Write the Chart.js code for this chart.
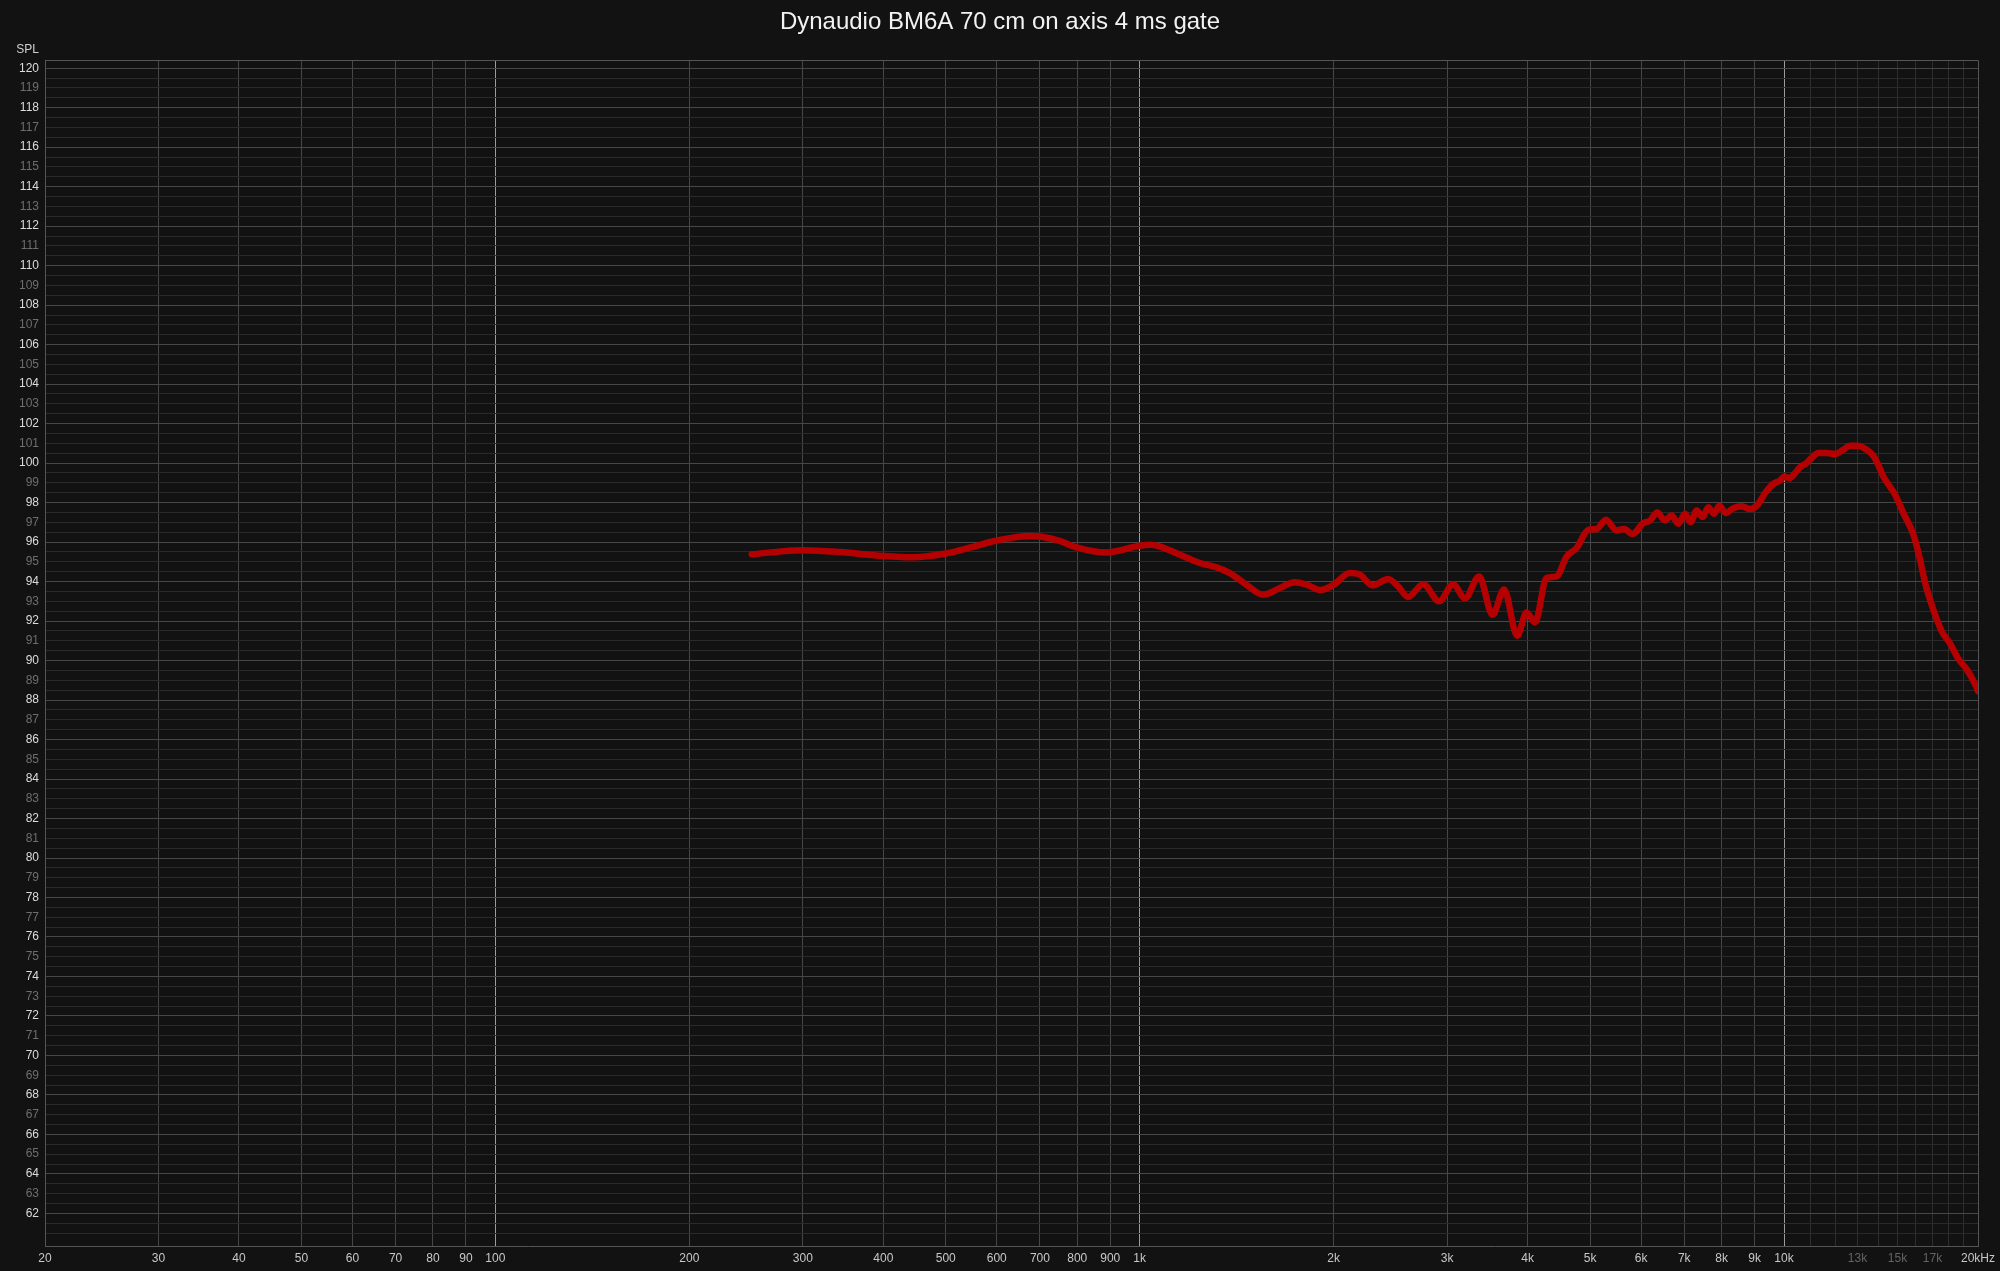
<!DOCTYPE html>
<html>
<head>
<meta charset="utf-8">
<title>Dynaudio BM6A 70 cm on axis 4 ms gate</title>
<script src="https://cdn.jsdelivr.net/npm/chart.js@4.4.1/dist/chart.umd.min.js"></script>
<style>
  html, body { margin: 0; padding: 0; background: #121212; }
  canvas { display: block; }
</style>
</head>
<body>
<canvas id="fr" width="2000" height="1271"></canvas>
<script>
// Frecuencias (Hz) y nivel SPL (dB)
const freqs = [
  250, 300, 342, 400, 445, 500, 551, 600, 675, 700, 751, 800, 887, 1000, 1040, 1073,
  1140, 1240, 1316, 1380, 1464, 1554, 1650, 1740, 1815, 1908, 2000, 2119, 2196, 2298,
  2429, 2518, 2610, 2754, 2916, 3065, 3197, 3364, 3528, 3677, 3853, 3985, 4106, 4280,
  4436, 4597, 4765, 4969, 5118, 5292, 5497, 5644, 5821, 6046, 6193, 6357, 6534, 6690,
  6853, 7022, 7160, 7318, 7476, 7630, 7786, 7936, 8126, 8345, 8597, 8857, 9122, 9343,
  9625, 9858, 10000, 10190, 10400, 10590, 10840, 11000, 11310, 11650, 12000, 12360,
  12660, 12970, 13440, 13760, 14000, 14260, 14870, 15320, 15880, 16260, 16560, 17050,
  17570, 18110, 18650, 19220, 19870, 20000
];
const spl = [
  95.38, 95.59, 95.50, 95.30, 95.23, 95.42, 95.76, 96.08, 96.31, 96.28, 96.06, 95.72, 95.47, 95.81, 95.86, 95.78,
  95.44, 94.94, 94.72, 94.43, 93.84, 93.33, 93.67, 93.97, 93.84, 93.57, 93.84, 94.43, 94.35, 93.81,
  94.13, 93.76, 93.22, 93.87, 93.00, 93.87, 93.16, 94.26, 92.32, 93.60, 91.26, 92.44, 91.93, 94.18,
  94.26, 95.27, 95.70, 96.62, 96.66, 97.13, 96.59, 96.66, 96.41, 96.96, 97.08, 97.50, 97.10, 97.35,
  96.93, 97.43, 97.00, 97.60, 97.27, 97.77, 97.43, 97.84, 97.47, 97.72, 97.81, 97.67, 97.93, 98.48,
  98.95, 99.11, 99.32, 99.24, 99.49, 99.80, 100.00, 100.22, 100.51, 100.51, 100.46, 100.68,
  100.88, 100.88, 100.68, 100.37, 99.92, 99.32, 98.40, 97.47, 96.37, 95.11, 93.92, 92.57,
  91.48, 90.85, 90.08, 89.54, 88.69, 88.45
];

// Marcas del eje X (Hz) y sus etiquetas
const xTicks = [20, 30, 40, 50, 60, 70, 80, 90, 100, 200, 300, 400, 500, 600, 700, 800, 900,
  1000, 2000, 3000, 4000, 5000, 6000, 7000, 8000, 9000, 10000, 11000, 12000, 13000, 14000,
  15000, 16000, 17000, 18000, 19000, 20000];
const xLabels = ['20', '30', '40', '50', '60', '70', '80', '90', '100', '200', '300', '400', '500',
  '600', '700', '800', '900', '1k', '2k', '3k', '4k', '5k', '6k', '7k', '8k', '9k', '10k', '', '',
  '13k', '', '15k', '', '17k', '', '', '20kHz'];
const xDimLabels = [13000, 15000, 17000];
const xDecades = [100, 1000, 10000];

// Eje Y: rango y etiquetas
const yMin = 60.35, yMax = 120.4;
const yFirstLabel = 62, yLastLabel = 120;

const FONT = 'Liberation Sans, Arial, sans-serif';

// Fondo oscuro y etiqueta "SPL"
const decoPlugin = {
  id: 'deco',
  beforeDraw(chart) {
    const c = chart.ctx;
    c.save();
    c.fillStyle = '#121212';
    c.fillRect(0, 0, chart.width, chart.height);
    c.restore();
  },
  afterDraw(chart) {
    const c = chart.ctx;
    c.save();
    c.font = '12px ' + FONT;
    c.fillStyle = '#cfcfcf';
    c.textAlign = 'right';
    c.textBaseline = 'middle';
    c.fillText('SPL', chart.chartArea.left - 6, 49.5);
    c.restore();
  }
};

new Chart(document.getElementById('fr'), {
  type: 'line',
  data: {
    datasets: [{
      label: 'SPL',
      data: freqs.map((f, i) => ({ x: f, y: spl[i] })),
      borderColor: '#b40000',
      borderWidth: 6.5,
      borderCapStyle: 'round',
      borderJoinStyle: 'round',
      cubicInterpolationMode: 'monotone',
      pointRadius: 0,
      fill: false
    }]
  },
  options: {
    responsive: false,
    animation: false,
    devicePixelRatio: 1,
    layout: { padding: 0 },
    plugins: {
      legend: { display: false },
      tooltip: { enabled: false },
      title: {
        display: true,
        text: 'Dynaudio BM6A 70 cm on axis 4 ms gate',
        color: '#f2f2f2',
        font: { family: FONT, size: 24, weight: 'normal' },
        padding: { top: 8, bottom: 23.5 }
      }
    },
    scales: {
      x: {
        type: 'logarithmic',
        min: 20,
        max: 20000,
        afterBuildTicks(scale) {
          scale.ticks = xTicks.map(v => ({ value: v }));
        },
        afterFit(scale) {
          scale.height = 25;
          scale.paddingLeft = 0;
          scale.paddingRight = 22;
        },
        ticks: {
          autoSkip: false,
          maxRotation: 0,
          padding: 5,
          font: { family: FONT, size: 12 },
          color: ctx => xDimLabels.includes(ctx.tick.value) ? '#646464' : '#c8c8c8',
          callback: (v) => {
            const i = xTicks.indexOf(v);
            return i >= 0 ? xLabels[i] : '';
          }
        },
        grid: {
          drawTicks: false,
          tickLength: 0,
          lineWidth: 1,
          color: ctx => {
            const v = ctx.tick.value;
            if (v === 20000) return '#555555';
            if (xDecades.includes(v)) return '#9c9c9c';
            if (v > 10000) return '#2e2e2e';
            return '#464646';
          }
        },
        border: { color: '#555555', width: 1 }
      },
      y: {
        type: 'linear',
        min: yMin,
        max: yMax,
        afterBuildTicks(scale) {
          const t = [];
          for (let v = 61; v <= yLastLabel; v += 0.5) t.push({ value: v });
          t.push({ value: yMax });
          scale.ticks = t;
        },
        afterFit(scale) {
          scale.width = 45;
          scale.paddingTop = 0;
          scale.paddingBottom = 0;
        },
        ticks: {
          autoSkip: false,
          padding: 6,
          font: { family: FONT, size: 12 },
          color: ctx => (ctx.tick.value % 2 === 0) ? '#dcdcdc' : '#6e6e6e',
          callback: (v) => (Number.isInteger(v) && v >= yFirstLabel && v <= yLastLabel) ? String(v) : ''
        },
        grid: {
          drawTicks: false,
          tickLength: 0,
          lineWidth: 1,
          color: ctx => {
            const v = ctx.tick.value;
            if (v === yMax) return '#555555';
            if (Number.isInteger(v) && v % 2 === 0) return '#474747';
            return '#2a2a2a';
          }
        },
        border: { color: '#555555', width: 1 }
      }
    }
  },
  plugins: [decoPlugin]
});
</script>
</body>
</html>
